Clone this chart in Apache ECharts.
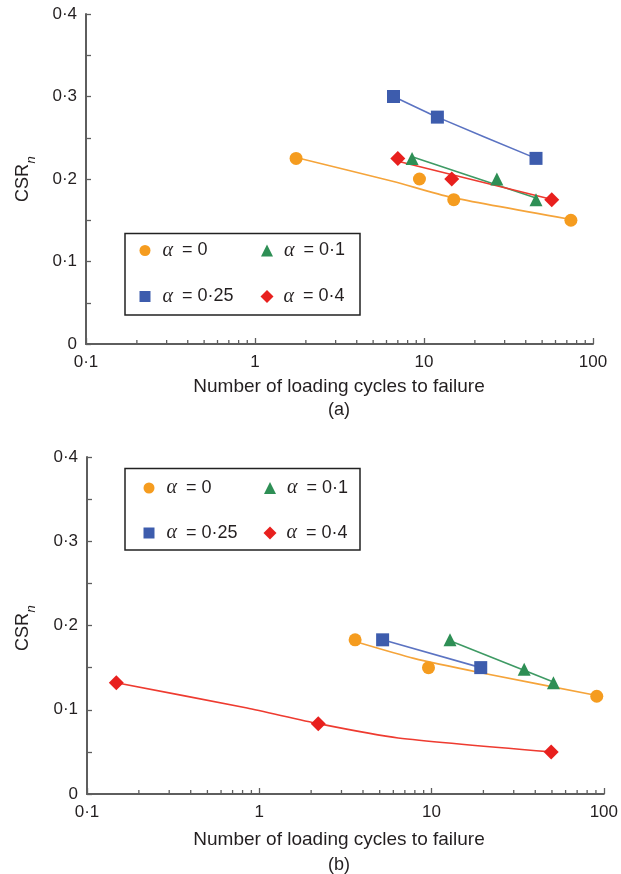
<!DOCTYPE html>
<html>
<head>
<meta charset="utf-8">
<script src="https://cdn.jsdelivr.net/npm/echarts@6/dist/echarts.min.js"></script>
<style>html,body{margin:0;padding:0;background:#fff;}#c{width:621px;height:874px;}</style>
</head>
<body>
<div id="c"></div>
<script>
// ---- data ----
const seriesNames = ['α = 0', 'α = 0·1', 'α = 0·25', 'α = 0·4'];
const xTickValues = [0.1, 1, 10, 100];
const xMinorTicks = [0.2,0.3,0.4,0.5,0.6,0.7,0.8,0.9,2,3,4,5,6,7,8,9,20,30,40,50,60,70,80,90];
const yTickValues = [0, 0.1, 0.2, 0.3, 0.4];

// panel (a) measured points
const a_alpha0   = [[1.75,0.225],[9.4,0.2],[15,0.175],[74,0.15]];
const a_alpha01  = [[8.5,0.225],[27,0.2],[46,0.175]];
const a_alpha025 = [[6.6,0.3],[12,0.275],[46,0.225]];
const a_alpha04  = [[7,0.225],[14.6,0.2],[57,0.175]];
// panel (a) trend lines
const a_fit0   = [[1.75,0.226],[6.6,0.197],[14.3,0.178],[74,0.151]];
const a_fit01  = [[8.5,0.227],[46,0.177]];
const a_fit025 = [[6.6,0.3],[12,0.275],[46,0.225]];
const a_fit04  = [[7.2,0.221],[55,0.176]];

// panel (b) measured points
const b_alpha0   = [[3.6,0.183],[9.6,0.15],[91,0.116]];
const b_alpha01  = [[12.8,0.183],[34.5,0.148],[51,0.132]];
const b_alpha025 = [[5.2,0.183],[19.3,0.15]];
const b_alpha04  = [[0.148,0.132],[2.2,0.0835],[49.5,0.05]];
// panel (b) trend lines
const b_fit0   = [[3.6,0.181],[7.9,0.161],[19.3,0.144],[91,0.117]];
const b_fit01  = [[12.8,0.182],[51,0.133]];
const b_fit025 = [[5.2,0.183],[19.3,0.15]];
const b_fit04  = [[0.148,0.132],[0.85,0.102],[2.2,0.0835],[6.4,0.0665],[49.5,0.05]];

// ---- styles ----
const FONT = "'Liberation Sans', Arial, sans-serif";
const SERIF = "'Liberation Serif', 'DejaVu Serif', serif";
const AXIS = '#5e5e5e';
const TXT = '#231f20';
const markColors = ['#F59C1F', '#2E8F55', '#3D5CAD', '#E8201E'];
const lineColors = ['#F5A43A', '#3E9A64', '#5B73C2', '#EE3B30'];
const symbols = ['circle', 'triangle', 'rect', 'diamond'];
const symSizes = [13, 13, 13, 15];
const legendIcon = [11, 12, 11, 13];

const chart = echarts.init(document.getElementById('c'), null, {renderer: 'canvas'});

function fmt(v) { return String(+v.toFixed(1)).replace('.', '·'); }

function xAxis(gi) {
  return {
    type: 'log', logBase: 10, min: 0.1, max: 100, gridIndex: gi,
    axisLine: {lineStyle: {color: AXIS, width: 2}},
    axisTick: {inside: true, length: 6, lineStyle: {color: AXIS, width: 1.3}},
    axisLabel: {margin: 10, color: TXT, fontSize: 17, fontFamily: FONT,
      formatter: v => fmt(v)},
    splitLine: {show: false}, minorTick: {show: false}
  };
}
function yAxis(gi) {
  return {
    type: 'value', min: 0, max: 0.4, interval: 0.1, gridIndex: gi,
    axisLine: {show: true, lineStyle: {color: AXIS, width: 2}},
    axisTick: {show: true, inside: true, length: 5, lineStyle: {color: AXIS, width: 1.3}},
    minorTick: {show: true, splitNumber: 2, length: 5, lineStyle: {color: AXIS, width: 1.3}},
    axisLabel: {margin: 9, color: TXT, fontSize: 17, fontFamily: FONT,
      formatter: v => fmt(v)},
    splitLine: {show: false}, minorSplitLine: {show: false}
  };
}

const panels = [
  {pts: [a_alpha0, a_alpha01, a_alpha025, a_alpha04], fits: [a_fit0, a_fit01, a_fit025, a_fit04]},
  {pts: [b_alpha0, b_alpha01, b_alpha025, b_alpha04], fits: [b_fit0, b_fit01, b_fit025, b_fit04]}
];

const series = [];
panels.forEach((p, gi) => {
  series.push({
    type: 'custom', xAxisIndex: gi, yAxisIndex: gi, silent: true, clip: false, z: 1,
    data: xMinorTicks.map(v => [v, 0]),
    renderItem: (params, api) => {
      const c = api.coord([api.value(0), 0]);
      return {type: 'line', shape: {x1: c[0], y1: c[1], x2: c[0], y2: c[1] - 4},
        style: {stroke: AXIS, lineWidth: 1.3}};
    }
  });
  p.fits.forEach((d, i) => {
    series.push({
      type: 'line', name: 'fit ' + seriesNames[i], xAxisIndex: gi, yAxisIndex: gi,
      data: d, symbol: 'none', silent: true, z: 2, smooth: 0.2,
      lineStyle: {color: lineColors[i], width: 1.6}
    });
  });
  p.pts.forEach((d, i) => {
    series.push({
      type: 'scatter', name: seriesNames[i], xAxisIndex: gi, yAxisIndex: gi,
      data: d, symbol: symbols[i], symbolSize: symSizes[i], z: 3,
      itemStyle: {color: markColors[i], opacity: 1}
    });
  });
});

// legends: 2x2 inside a framed box for each panel
const legendPos = [
  {cols: [145, 267], rows: [251.5, 297.5]},
  {cols: [149, 270], rows: [489, 534]}
];
const order = [[0, 0, 0], [1, 1, 0], [2, 0, 1], [3, 1, 1]]; // series idx, col, row
const legends = [];
legendPos.forEach(lp => {
  order.forEach(([si, c, r]) => {
    const s = legendIcon[si];
    legends.push({
      data: [{name: seriesNames[si], icon: symbols[si]}],
      left: lp.cols[c] - s / 2, top: lp.rows[r] - 11,
      itemWidth: s, itemHeight: s, padding: 0, selectedMode: false,
      formatter: name => '{a|α}{e|=}{v|' + name.split('= ')[1] + '}',
      textStyle: {
        color: TXT,
        rich: {
          a: {fontFamily: SERIF, fontStyle: 'italic', fontSize: 20, lineHeight: 22, color: TXT, padding: [0, 0, 0, 18 - s]},
          e: {fontFamily: FONT, fontSize: 18, lineHeight: 22, color: TXT, padding: [0, 5, 0, 9]},
          v: {fontFamily: FONT, fontSize: 18, lineHeight: 22, color: TXT}
        }
      }
    });
  });
});

chart.setOption({
  animation: false,
  textStyle: {fontFamily: FONT},
  grid: [
    {left: 86, top: 14, width: 507, height: 330},
    {left: 87, top: 457, width: 520, height: 337}
  ],
  xAxis: [xAxis(0), xAxis(1)],
  yAxis: [yAxis(0), yAxis(1)],
  legend: legends,
  series: series,
  graphic: [
    {type: 'rect', shape: {x: 125, y: 233.5, width: 235, height: 81.5}, style: {fill: 'none', stroke: '#222', lineWidth: 1.5}, z: 10},
    {type: 'rect', shape: {x: 125, y: 468.5, width: 235, height: 81.5}, style: {fill: 'none', stroke: '#222', lineWidth: 1.5}, z: 10},
    {type: 'text', x: 339, y: 387, style: {text: 'Number of loading cycles to failure', font: "19px 'Liberation Sans'", fill: TXT, textAlign: 'center', textVerticalAlign: 'middle'}},
    {type: 'text', x: 339, y: 840, style: {text: 'Number of loading cycles to failure', font: "19px 'Liberation Sans'", fill: TXT, textAlign: 'center', textVerticalAlign: 'middle'}},
    {type: 'text', x: 339, y: 410, style: {text: '(a)', font: "18px 'Liberation Sans'", fill: TXT, textAlign: 'center', textVerticalAlign: 'middle'}},
    {type: 'text', x: 339, y: 865, style: {text: '(b)', font: "18px 'Liberation Sans'", fill: TXT, textAlign: 'center', textVerticalAlign: 'middle'}},
    {type: 'text', x: 23, y: 183, rotation: Math.PI / 2, style: {
      text: 'CSR', font: "18px 'Liberation Sans'", fill: TXT, textAlign: 'center', textVerticalAlign: 'middle'}},
    {type: 'text', x: 31, y: 160, rotation: Math.PI / 2, style: {
      text: 'n', font: "italic 13px 'Liberation Sans'", fill: TXT, textAlign: 'center', textVerticalAlign: 'middle'}},
    {type: 'text', x: 23, y: 632, rotation: Math.PI / 2, style: {
      text: 'CSR', font: "18px 'Liberation Sans'", fill: TXT, textAlign: 'center', textVerticalAlign: 'middle'}},
    {type: 'text', x: 31, y: 609, rotation: Math.PI / 2, style: {
      text: 'n', font: "italic 13px 'Liberation Sans'", fill: TXT, textAlign: 'center', textVerticalAlign: 'middle'}}
  ]
});
</script>
</body>
</html>
